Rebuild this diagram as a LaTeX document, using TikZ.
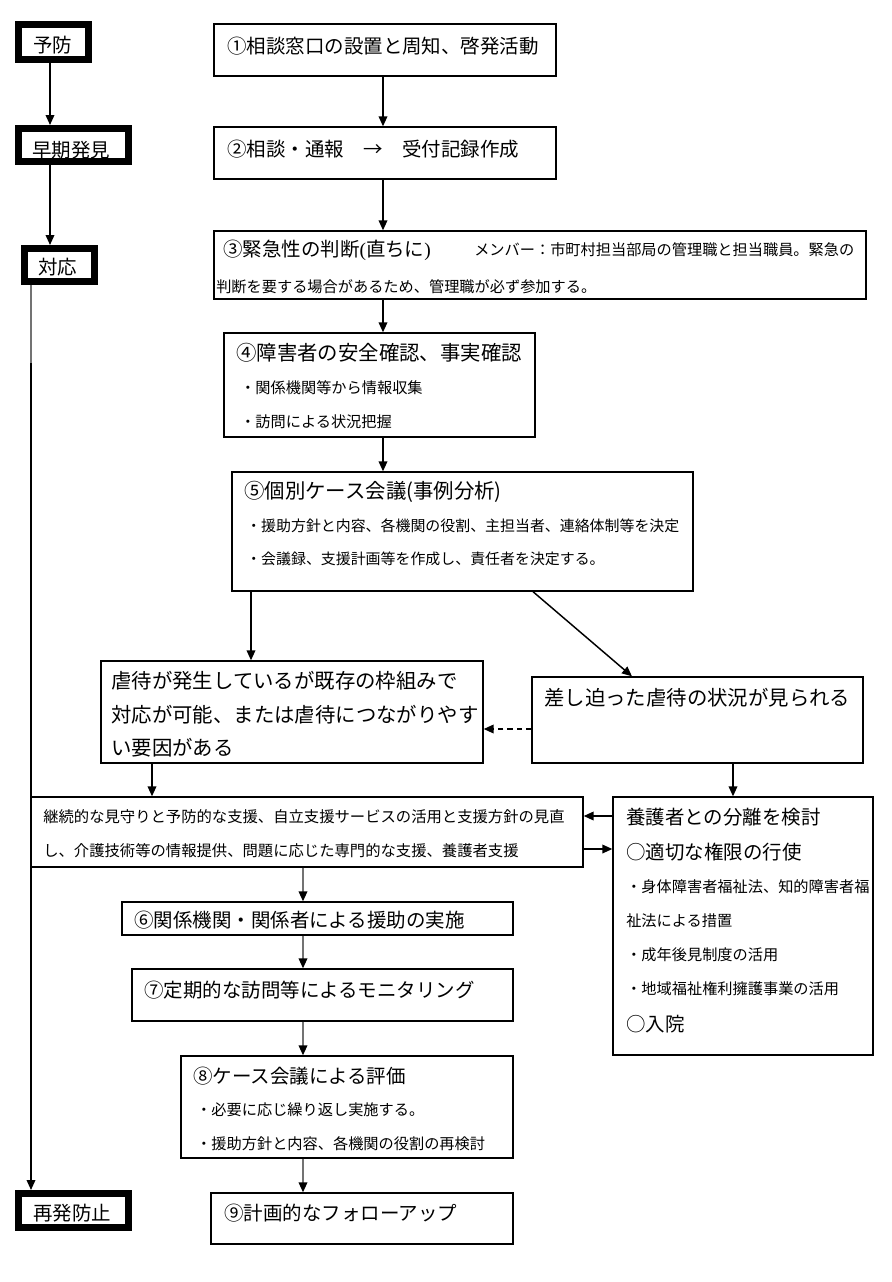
\documentclass[tikz,border=0pt]{standalone}
\usepackage{fontspec}
\newfontfamily\jp{Noto Sans CJK JP}
\newfontfamily\lat{Liberation Serif}
\usetikzlibrary{arrows.meta,fit}
\begin{document}
\begin{tikzpicture}[x=0.75pt,y=-0.75pt,
  box/.style={draw=black,line width=1pt,inner sep=0pt},
  thickbox/.style={draw=black,line width=5.25pt,inner sep=0pt},
  txt/.style={anchor=west,inner sep=0pt,text=black},
  big/.style={txt,font=\jp\fontsize{14.6pt}{16pt}\selectfont},
  bigger/.style={txt,font=\jp\fontsize{15.3pt}{17pt}\selectfont},
  small/.style={txt,font=\jp\fontsize{11.4pt}{13pt}\selectfont},
  smaller/.style={txt,font=\jp\fontsize{11.2pt}{13pt}\selectfont},
  mid/.style={txt,font=\jp\fontsize{11.5pt}{13pt}\selectfont},
  arr/.style={line width=1.1pt,draw=black,-{Triangle[length=7.5pt,width=6.5pt]}},
  garr/.style={line width=1.1pt,draw=black!55,-{Triangle[length=7.5pt,width=6.5pt,color=black]}},
  darr/.style={arr,dashed,dash pattern=on 4pt off 3pt}]
\useasboundingbox (0,0) rectangle (892,1282);
\fill[white] (0,0) rectangle (892,1282);

% left stage boxes
\node[thickbox,fit={(18.5,24.5) (88.5,59.5)}] (yobo) {};
\node[thickbox,fit={(18.5,128.5) (128.5,161.5)}] (soki) {};
\node[thickbox,fit={(24.5,248.5) (94,281.5)}] (taio) {};
\node[thickbox,fit={(18.5,1193.5) (128.5,1227.5)}] (saihatsu) {};
\node[big] (tyobo) at (33,45) {予防};
\node[big] (tsoki) at (32,150) {早期発見};
\node[big] (ttaio) at (38,267) {対応};
\node[big] (tsaihatsu) at (33,1213) {再発防止};

% main boxes
\node[box,fit={(214,24) (556,76)}] (n1) {};
\node[box,fit={(214,127) (556,179)}] (n2) {};
\node[box,fit={(214,231) (866,299)}] (n3) {};
\node[box,fit={(224,333) (535,437)}] (n4) {};
\node[box,fit={(232,472) (693,591)}] (n5) {};
\node[box,fit={(101,661) (483,763)}] (na) {};
\node[box,fit={(532,677) (863,763)}] (nb) {};
\node[box,fit={(31,797) (583,867)}] (nc) {};
\node[box,fit={(613,797) (873,1055)}] (nd) {};
\node[box,fit={(122,902) (513,935)}] (n6) {};
\node[box,fit={(132,969) (513,1021)}] (n7) {};
\node[box,fit={(181,1056) (513,1158)}] (n8) {};
\node[box,fit={(211,1193) (513,1244)}] (n9) {};

% texts
\node[big] (t1) at (227,46) {①相談窓口の設置と周知、啓発活動};
\node[big] (t2) at (227,149) {②相談・通報　→　受付記録作成};
\node[big] (t3a) at (223,250) {③緊急性の判断{\lat(}直ちに{\lat)}};
\node[small] (t3b) at (474,250) {メンバー：市町村担当部局の管理職と担当職員。緊急の};
\node[small] (t3c) at (216,287) {判断を要する場合があるため、管理職が必ず参加する。};
\node[bigger] (t4a) at (236,353) {④障害者の安全確認、事実確認};
\node[small] (t4b) at (240,388) {・関係機関等から情報収集};
\node[small] (t4c) at (240,422) {・訪問による状況把握};
\node[bigger] (t5a) at (244,492) {⑤個別ケース会議(事例分析)};
\node[smaller] (t5b) at (246,526) {・援助方針と内容、各機関の役割、主担当者、連絡体制等を決定};
\node[smaller] (t5c) at (246,559) {・会議録、支援計画等を作成し、責任者を決定する。};
\node[bigger] (taa) at (111,681) {虐待が発生しているが既存の枠組みで};
\node[bigger] (tab) at (111,715) {対応が可能、または虐待につながりやす};
\node[bigger] (tac) at (111,748) {い要因がある};
\node[bigger] (tb) at (544,698) {差し迫った虐待の状況が見られる};
\node[mid] (tca) at (43,817) {継続的な見守りと予防的な支援、自立支援サービスの活用と支援方針の見直};
\node[mid] (tcb) at (43,851) {し、介護技術等の情報提供、問題に応じた専門的な支援、養護者支援};
\node[big] (tda) at (626,817) {養護者との分離を検討};
\node[big] (tdb) at (626,852) {○適切な権限の行使};
\node[small] (tdc) at (626,887) {・身体障害者福祉法、知的障害者福};
\node[small] (tdd) at (626,921) {祉法による措置};
\node[small] (tde) at (626,955) {・成年後見制度の活用};
\node[small] (tdf) at (626,989) {・地域福祉権利擁護事業の活用};
\node[big] (tdg) at (626,1024) {○入院};
\node[big] (t6) at (134,920) {⑥関係機関・関係者による援助の実施};
\node[big] (t7) at (144,990) {⑦定期的な訪問等によるモニタリング};
\node[big] (t8a) at (193,1076) {⑧ケース会議による評価};
\node[small] (t8b) at (196,1110) {・必要に応じ繰り返し実施する。};
\node[small] (t8c) at (196,1144) {・援助方針と内容、各機関の役割の再検討};
\node[big] (t9) at (224,1213) {⑨計画的なフォローアップ};

% helper coordinates
\coordinate (x50) at (50,0);
\coordinate (x31) at (31,0);
\coordinate (ymid) at (0,363);
\coordinate (x383) at (383,0);
\coordinate (x251) at (251,0);
\coordinate (x533) at (533,0);
\coordinate (x632) at (632,0);
\coordinate (y729) at (0,729);
\coordinate (x152) at (152,0);
\coordinate (x733) at (733,0);
\coordinate (y816) at (0,816);
\coordinate (y849) at (0,849);
\coordinate (x303) at (303,0);

% left connectors
\draw[arr] (yobo.south -| x50) -- (soki.north -| x50);
\draw[arr] (soki.south -| x50) -- (taio.north -| x50);
\draw[line width=1.1pt,draw=black!55] (taio.south -| x31) -- (x31 |- ymid);
\draw[arr] (x31 |- ymid) -- (saihatsu.north -| x31);

% main connectors
\draw[arr] (n1.south -| x383) -- (n2.north -| x383);
\draw[arr] (n2.south -| x383) -- (n3.north -| x383);
\draw[arr] (n3.south -| x383) -- (n4.north -| x383);
\draw[arr] (n4.south -| x383) -- (n5.north -| x383);
\draw[arr] (n5.south -| x251) -- (na.north -| x251);
\draw[arr] (n5.south -| x533) -- (nb.north -| x632);
\draw[darr] (nb.west |- y729) -- (na.east |- y729);
\draw[arr] (na.south -| x152) -- (nc.north -| x152);
\draw[arr] (nb.south -| x733) -- (nd.north -| x733);
\draw[arr] (nd.west |- y816) -- (nc.east |- y816);
\draw[arr] (nc.east |- y849) -- (nd.west |- y849);
\draw[garr] (nc.south -| x303) -- (n6.north -| x303);
\draw[garr] (n6.south -| x303) -- (n7.north -| x303);
\draw[garr] (n7.south -| x303) -- (n8.north -| x303);
\draw[garr] (n8.south -| x303) -- (n9.north -| x303);
\end{tikzpicture}
\end{document}
